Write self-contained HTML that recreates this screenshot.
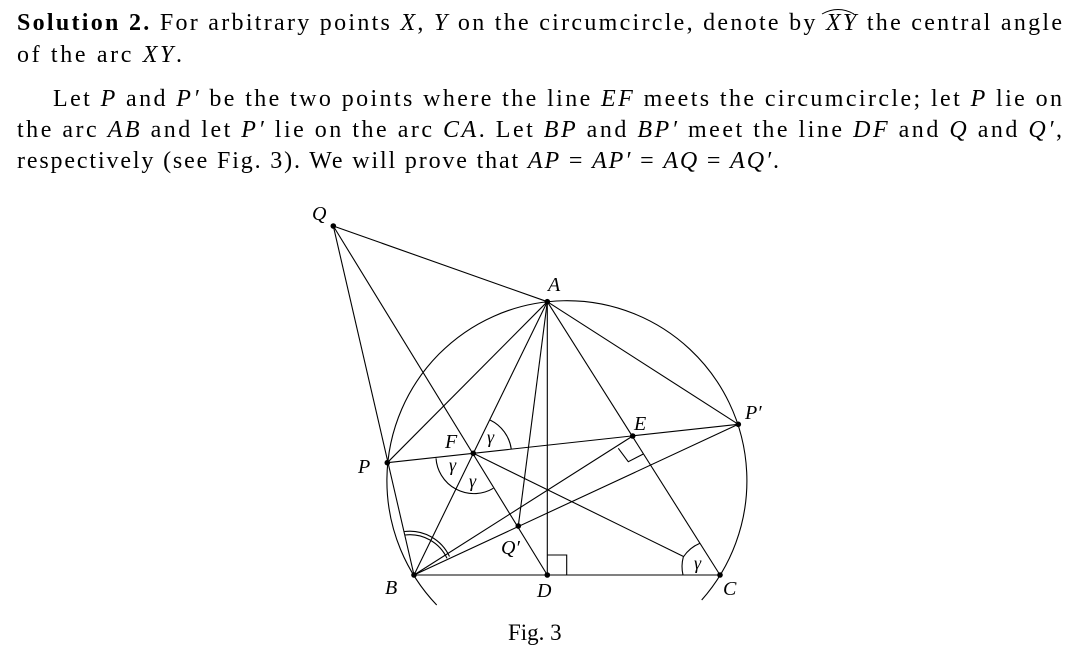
<!DOCTYPE html>
<html><head><meta charset="utf-8"><style>
html,body{margin:0;padding:0;background:#fff;}
svg{display:block;}
text{font-family:"Liberation Serif",serif;fill:#000;}
.i{font-style:italic;}
</style></head><body>
<svg width="1088" height="650" viewBox="0 0 1088 650" xmlns="http://www.w3.org/2000/svg">
<g font-size="24">
<text x="17" y="30" textLength="1045" lengthAdjust="spacing"><tspan font-weight="bold">Solution 2.</tspan>  For arbitrary points <tspan class="i">X</tspan>, <tspan class="i">Y</tspan> on the circumcircle, denote by <tspan class="i">XY</tspan> the central angle</text>
<path d="M822 14 Q838 5 854 14" fill="none" stroke="#000" stroke-width="1"/>
<text x="17" y="62" textLength="165" lengthAdjust="spacing">of the arc <tspan class="i">XY</tspan>.</text>
<text x="53" y="106" textLength="1009" lengthAdjust="spacing">Let <tspan class="i">P</tspan> and <tspan class="i">P′</tspan> be the two points where the line <tspan class="i">EF</tspan> meets the circumcircle; let <tspan class="i">P</tspan> lie on</text>
<text x="17" y="137" textLength="1045" lengthAdjust="spacing">the arc <tspan class="i">AB</tspan> and let <tspan class="i">P′</tspan> lie on the arc <tspan class="i">CA</tspan>. Let <tspan class="i">BP</tspan> and <tspan class="i">BP′</tspan> meet the line <tspan class="i">DF</tspan> and <tspan class="i">Q</tspan> and <tspan class="i">Q′</tspan>,</text>
<text x="17" y="168" textLength="762" lengthAdjust="spacing">respectively (see Fig. 3). We will prove that <tspan class="i">AP</tspan> = <tspan class="i">AP′</tspan> = <tspan class="i">AQ</tspan> = <tspan class="i">AQ′</tspan>.</text>
<text x="508" y="640" font-size="23">Fig. 3</text>
</g>
<g fill="none" stroke="#000" stroke-width="1.1">
<path d="M436.7 605 A180 180 0 1 1 701.7 600"/>
<line x1="333.3" y1="226" x2="547.3" y2="301.7"/>
<line x1="333.3" y1="226" x2="414" y2="575"/>
<line x1="333.3" y1="226" x2="547.3" y2="575"/>
<line x1="387.3" y1="462.7" x2="547.3" y2="301.7"/>
<line x1="387.3" y1="462.7" x2="738.3" y2="424.3"/>
<line x1="414" y1="575" x2="547.3" y2="301.7"/>
<line x1="518.3" y1="526" x2="547.3" y2="301.7"/>
<line x1="547.3" y1="575" x2="547.3" y2="301.7"/>
<line x1="720" y1="575" x2="547.3" y2="301.7"/>
<line x1="738.3" y1="424.3" x2="547.3" y2="301.7"/>
<line x1="414" y1="575" x2="632.7" y2="436"/>
<line x1="414" y1="575" x2="738.3" y2="424.3"/>
<line x1="414" y1="575" x2="720" y2="575"/>
<line x1="473.3" y1="453.3" x2="683.5" y2="556.5"/>
<polyline points="547.3,555 566.7,555 566.7,575"/>
<polyline points="618.3,448.3 628.3,461.7 643.3,454"/>
<path d="M490 420 A38 38 0 0 1 511.3 449.3"/>
<path d="M436 458.3 A38 38 0 0 0 493.3 488.3"/>
<path d="M683.3 557 A37 37 0 0 0 683 575"/>
<path d="M683.3 557 A37 37 0 0 1 700 543.3"/>
<path d="M405 535 A41 41 0 0 1 447 558.3"/>
<path d="M404.5 531.5 A44 44 0 0 1 449.5 556.5"/>
</g>
<g fill="#000">
<circle cx="333.3" cy="226" r="2.8"/><circle cx="547.3" cy="301.7" r="2.8"/>
<circle cx="387.3" cy="462.7" r="2.8"/><circle cx="738.3" cy="424.3" r="2.8"/>
<circle cx="632.7" cy="436" r="2.8"/><circle cx="473.3" cy="453.3" r="2.8"/>
<circle cx="518.3" cy="526" r="2.8"/><circle cx="414" cy="575" r="2.8"/>
<circle cx="547.3" cy="575" r="2.8"/><circle cx="720" cy="575" r="2.8"/>
</g>
<g font-size="20" font-style="italic">
<text x="312" y="220">Q</text>
<text x="548" y="291">A</text>
<text x="745" y="419">P′</text>
<text x="634" y="430">E</text>
<text x="445" y="448">F</text>
<text x="358" y="473">P</text>
<text x="501" y="554">Q′</text>
<text x="385" y="594">B</text>
<text x="537" y="597">D</text>
<text x="723" y="595">C</text>
<text x="487" y="443" font-size="18">γ</text>
<text x="449" y="471" font-size="18">γ</text>
<text x="469" y="487" font-size="18">γ</text>
<text x="694" y="569" font-size="18">γ</text>
</g>
</svg>
</body></html>
